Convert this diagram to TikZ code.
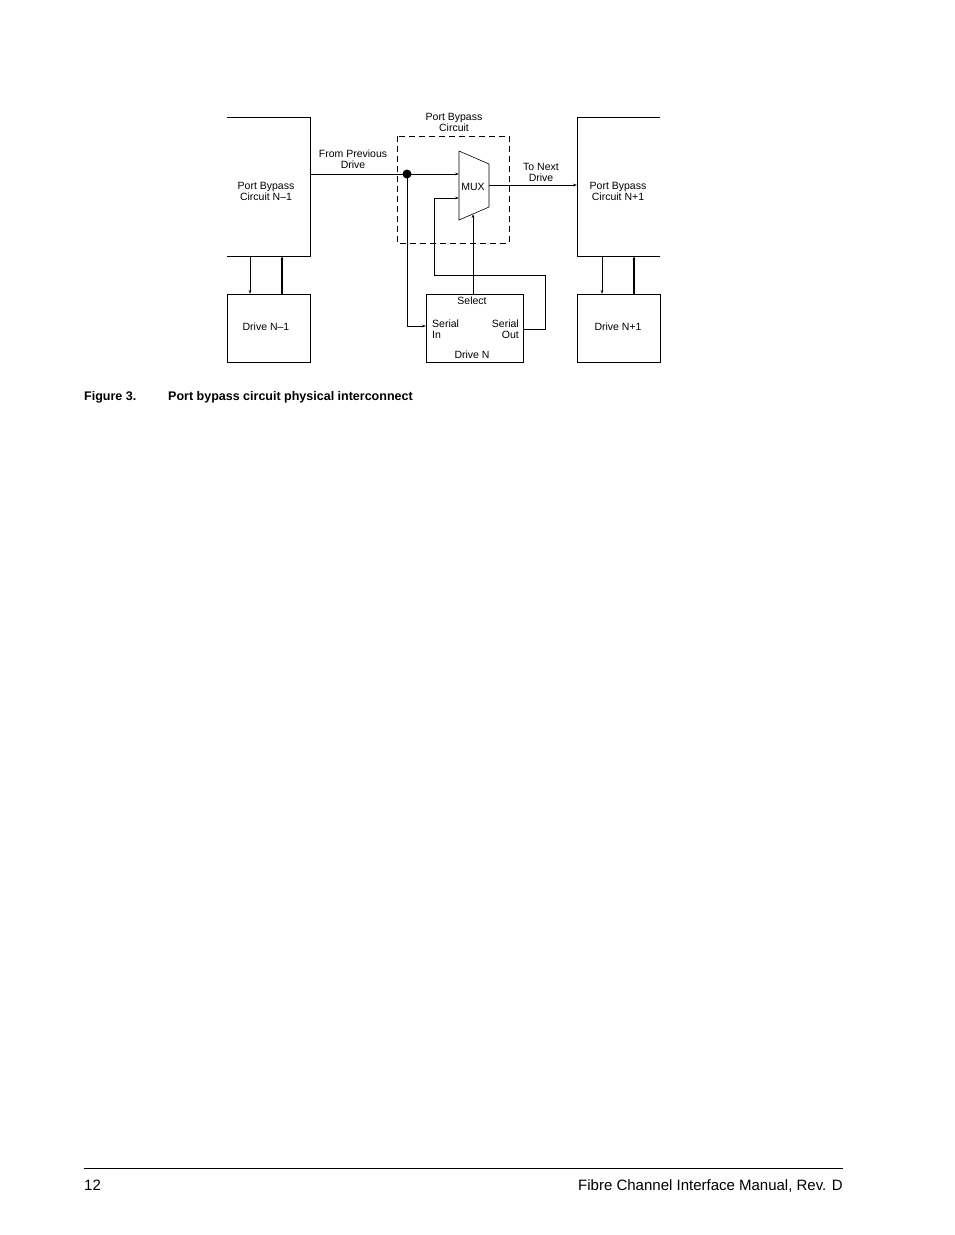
\documentclass[tikz,border=0pt]{standalone}
\usepackage{fontspec}
\setmainfont{Liberation Sans}
\usetikzlibrary{arrows.meta}
\begin{document}
\begin{tikzpicture}[x=1pt,y=-1pt,
    lbl/.style={font=\fontsize{10.5}{11}\selectfont, align=center, inner sep=0pt},
    sig/.style={-{Stealth[length=4pt,width=2.5pt]}, line width=0.5pt}]
  \useasboundingbox (0,0) rectangle (954,1235);
  % circuits and drives
  \draw[line width=1pt] (227,117) -- (310,117) -- (310,256) -- (227,256);
  \draw[line width=1pt] (660,117) -- (577,117) -- (577,256) -- (660,256);
  \draw[line width=1pt] (227,294) rectangle (310,362);
  \draw[line width=1pt] (577,294) rectangle (660,362);
  \draw[line width=0.6pt] (426,294) rectangle (523,362);
  \draw[dashed, line width=0.6pt, dash pattern=on 6pt off 4pt] (397,136) rectangle (509,243);
  \draw[line width=0.6pt] (459,151) -- (489,164) -- (489,207) -- (459,220) -- cycle;
  % coordinates
  \coordinate (pbcL) at (310,174);
  \coordinate (tap) at (407,174);
  \coordinate (muxA) at (459,174);
  \coordinate (muxB) at (459,198);
  \coordinate (muxS) at (473,214);
  \coordinate (muxO) at (489,185);
  \coordinate (pbcR) at (577,185);
  \coordinate (sin) at (426,326);
  \coordinate (sout) at (523,329);
  \coordinate (sel) at (473,294);
  \draw[line width=0.5pt] (pbcL) -- (tap);
  \draw[sig] (tap) -- (muxA);
  \fill (tap) circle (4.5);
  \draw[sig] (tap) |- (sin);
  \draw[sig] (sout) -- (545,329) -- (545,275) -- (434,275) |- (muxB);
  \draw[sig] (sel) -- (muxS);
  \draw[sig] (muxO) -- (pbcR);
  \draw[sig] (250,256) -- (250,294);
  \draw[sig, line width=1.2pt] (282,294) -- (282,256);
  \draw[sig] (602,256) -- (602,294);
  \draw[sig, line width=1.2pt] (634,294) -- (634,256);
  % labels
  \node[lbl] (tPBC) at (454,122) {Port Bypass\\Circuit};
  \node[lbl] (tFrom) at (353,159) {From Previous\\Drive};
  \node[lbl] (tTo) at (541,172) {To Next\\Drive};
  \node[lbl] (tL) at (266,191) {Port Bypass\\Circuit N–1};
  \node[lbl] (tR) at (618,191) {Port Bypass\\Circuit N+1};
  \node[lbl] (tMux) at (473,187) {MUX};
  \node[lbl] (tSel) at (472,301) {Select};
  \node[lbl, align=left, anchor=west] (tIn) at (432,329) {Serial\\In};
  \node[lbl, align=right, anchor=east] (tOut) at (519,329) {Serial\\Out};
  \node[lbl] (tDN) at (472,355) {Drive N};
  \node[lbl] (tDL) at (266,327) {Drive N–1};
  \node[lbl] (tDR) at (618,327) {Drive N+1};
  % caption and footer
  \node[anchor=base west, inner sep=0pt, font=\bfseries\fontsize{12.5}{14}\selectfont] (fig) at (84,400) {Figure 3.};
  \node[anchor=base west, inner sep=0pt, font=\bfseries\fontsize{12.5}{14}\selectfont] (cap) at (168,400) {Port bypass circuit physical interconnect};
  \draw[line width=0.6pt] (84,1168) -- (843,1168);
  \node[anchor=base west, inner sep=0pt, font=\fontsize{15}{17}\selectfont] (pg) at (84,1190) {12};
  \node[anchor=base east, inner sep=0pt, font=\fontsize{15}{17}\selectfont] (ttl) at (843,1190) {Fibre Channel Interface Manual, Rev. D};
\end{tikzpicture}
\end{document}
